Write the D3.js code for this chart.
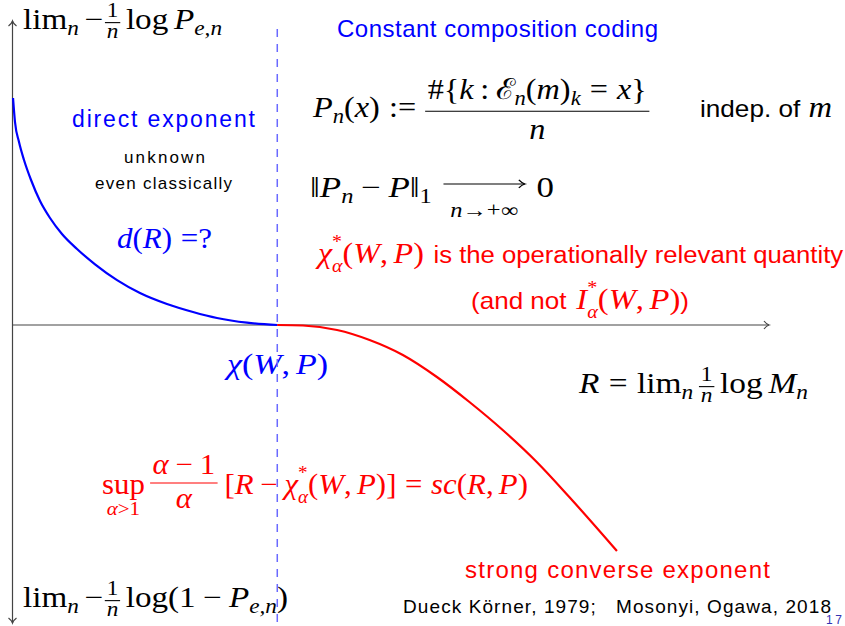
<!DOCTYPE html>
<html>
<head>
<meta charset="utf-8">
<script src="https://cdn.jsdelivr.net/npm/d3@7"></script>
<style>
  html, body { margin: 0; padding: 0; background: #fff; }
  svg { display: block; }
</style>
</head>
<body>
<svg id="chart" width="845" height="626"></svg>
<script>
// Rate axis (horizontal) and exponent axis (vertical), abstract units
const rateDomain = [0, 10];
const exponentDomain = [-5.96, 6.08];
const chiRate = 3.5; // position of χ(W,P) on the rate axis

// Direct exponent d(R) for rates below χ(W,P)
const directRate = [0.007, 0.033, 0.086, 0.152, 0.245, 0.364, 0.496, 0.654, 0.853, 1.091, 1.382, 1.685, 2.042, 2.386, 2.703, 3.1, 3.5];
const directExp  = [4.54, 4.06, 3.66, 3.30, 2.90, 2.48, 2.14, 1.82, 1.52, 1.214, 0.898, 0.64, 0.42, 0.26, 0.14, 0.046, 0];

// Strong converse exponent, drawn downward for rates above χ(W,P)
const converseRate = [3.5, 3.84, 4.29, 4.72, 5.16, 5.61, 6.04, 6.48, 6.93, 7.36, 7.99];
const converseExp  = [0, -0.01, -0.10, -0.30, -0.60, -1.04, -1.54, -2.10, -2.74, -3.44, -4.52];

const SERIF = "'Liberation Serif', 'Times New Roman', serif";
const SANS = "'Liberation Sans', Arial, sans-serif";
const BLUE = "#0000ff", RED = "#ff0000", DASH = "#6a6aff", AXIS = "#444";

const svg = d3.select("#chart");
const x = d3.scaleLinear().domain(rateDomain).range([12.5, 769]);
const y = d3.scaleLinear().domain(exponentDomain).range([623, 21]);

// LaTeX-style arrow tip pointing right at (tx, ty)
function arrowTip(tx, ty) {
  return `M${tx - 5},${ty - 4} C${tx - 3},${ty - 1.4} ${tx - 1},${ty - 0.3} ${tx},${ty}` +
         ` C${tx - 1},${ty + 0.3} ${tx - 3},${ty + 1.4} ${tx - 5},${ty + 4}`;
}

// ---- axes ----
const axes = svg.append("g").attr("stroke", AXIS).attr("fill", "none").attr("stroke-width", 1.2);
axes.append("line").attr("x1", x(rateDomain[0])).attr("x2", x(rateDomain[1]))
  .attr("y1", y(0)).attr("y2", y(0));
axes.append("path").attr("d", arrowTip(x(rateDomain[1]), y(0)));
axes.append("line").attr("x1", x(0)).attr("x2", x(0))
  .attr("y1", y(exponentDomain[0])).attr("y2", y(exponentDomain[1]));
axes.append("path").attr("d", arrowTip(0, 0))
  .attr("transform", `translate(${x(0)},${y(exponentDomain[1])}) rotate(-90)`);
axes.append("path").attr("d", arrowTip(0, 0))
  .attr("transform", `translate(${x(0)},${y(exponentDomain[0])}) rotate(90)`);

// ---- curves ----
const line = d3.line().x(d => x(d[0])).y(d => y(d[1])).curve(d3.curveMonotoneX);
svg.append("path").datum(d3.zip(directRate, directExp))
  .attr("d", line).attr("fill", "none").attr("stroke", BLUE).attr("stroke-width", 2.2);
svg.append("path").datum(d3.zip(converseRate, converseExp))
  .attr("d", line).attr("fill", "none").attr("stroke", RED).attr("stroke-width", 2.2);

// ---- small math typesetter ----
function typeset(spec) {
  const S = spec.size, col = spec.color || "#000";
  const inner = svg.append("g").append("g").attr("fill", col);

  function seq(c, parts, x0, base, k) {
    let cx = x0;
    parts.forEach(p => { cx += put(c, p, cx, base, k); });
    return cx - x0;
  }
  function put(c, p, cx, base, k) {
    if (p.sp !== undefined) return p.sp * S * k;
    if (p.frac) {
      const kk = k * (p.k || 1);
      const ng = c.append("g"), dg = c.append("g");
      const wn = seq(ng, p.frac, 0, base + p.num * S, kk);
      const wd = seq(dg, p.den, 0, base + p.dn * S, kk);
      const pad = 0.08 * S * kk;
      const W = Math.max(wn, wd) + 2 * pad;
      ng.attr("transform", `translate(${cx + (W - wn) / 2},0)`);
      dg.attr("transform", `translate(${cx + (W - wd) / 2},0)`);
      c.append("line").attr("x1", cx).attr("x2", cx + W)
        .attr("y1", base + p.bar * S).attr("y2", base + p.bar * S)
        .attr("stroke", col).attr("stroke-width", 1.1);
      return W + 0.05 * S;
    }
    if (p.stack) {
      const ws = p.stack.map(ps => seq(c, ps, cx, base, k));
      return Math.max(...ws);
    }
    if (p.under) {
      const mg = c.append("g"), lg = c.append("g");
      const wm = seq(mg, p.under, 0, base, k);
      const wl = seq(lg, p.label, 0, base + p.ld * S * k, k * p.lk);
      const W = Math.max(wm, wl);
      mg.attr("transform", `translate(${cx + (W - wm) / 2},0)`);
      lg.attr("transform", `translate(${cx + (W - wl) / 2},0)`);
      return W;
    }
    if (p.arrow) {
      const lg = c.append("g");
      const wl = seq(lg, p.arrow, 0, base + p.ld * S, k * p.lk);
      const W = Math.max(wl + 0.3 * S, p.w * S);
      lg.attr("transform", `translate(${cx + (W - wl) / 2},0)`);
      const ay = base + p.ay * S;
      c.append("line").attr("x1", cx + 1).attr("x2", cx + W - 1)
        .attr("y1", ay).attr("y2", ay).attr("stroke", col).attr("stroke-width", 1.1);
      c.append("path").attr("d", arrowTip(cx + W - 1, ay))
        .attr("fill", "none").attr("stroke", col).attr("stroke-width", 1.1);
      return W;
    }
    const t = c.append("text")
      .attr("x", cx).attr("y", base + (p.d || 0) * S * k)
      .attr("font-size", S * k * (p.k || 1))
      .attr("font-family", p.f === "s" ? SANS : SERIF)
      .attr("font-style", p.f === "i" ? "italic" : "normal")
      .text(p.t);
    return t.node().getComputedTextLength();
  }

  const natural = seq(inner, spec.parts, 0, spec.y, 1);
  const s = spec.width ? spec.width / natural : 1;
  inner.attr("transform", `translate(${spec.x},0) scale(${s},1)`);
}

const R = t => ({ t, f: "r" });
const I = t => ({ t, f: "i" });
const T = (t, k) => ({ t, f: "s", k: k || 0.8 });
const sub = (t, f) => ({ t, f: f || "i", k: 0.7, d: 0.22 });
const sp = v => ({ sp: v });
const starAlpha = { stack: [[{ t: "*", f: "r", k: 0.62, d: -0.5 }], [{ t: "α", f: "i", k: 0.62, d: 0.3 }]] };
const oneOverN = { frac: [R("1")], den: [I("n")], k: 0.7, num: -0.42, dn: 0.3, bar: -0.22 };
const WP = [R("("), I("W"), R(","), sp(0.17), I("P"), R(")")];

// ---- sans labels ----
function label(str, lx, ly, w, size, color) {
  svg.append("text").attr("x", lx).attr("y", ly)
    .attr("font-family", SANS).attr("font-size", size).attr("fill", color)
    .attr("textLength", w).attr("lengthAdjust", "spacing")
    .text(str);
}

label("Constant composition coding", 337, 37, 321, 24, BLUE);
label("direct exponent", 72, 127, 183, 23, BLUE);
label("unknown", 124, 163, 81, 17, "#000");
label("even classically", 95, 189, 137, 17, "#000");
label("strong converse exponent", 465, 578, 305, 24, RED);
label("Dueck Körner, 1979;\u00a0\u00a0\u00a0Mosonyi, Ogawa, 2018", 403, 613, 428, 19, "#000");
label("17", 826, 624, 16, 12, "#3333b3");

// ---- formulas ----
const M = 29;
typeset({ x: 23, y: 29, width: 199, size: M, parts: [
  R("lim"), sub("n"), sp(0.17), R("−"), sp(0.05), oneOverN, sp(0.12), R("log"), sp(0.17), I("P"), sub("e,n")
]});
typeset({ x: 23, y: 607, width: 265, size: M, parts: [
  R("lim"), sub("n"), sp(0.17), R("−"), sp(0.05), oneOverN, sp(0.12), R("log(1"), sp(0.22), R("−"), sp(0.22),
  I("P"), sub("e,n"), R(")")
]});
typeset({ x: 313, y: 117, width: 338, size: M, parts: [
  I("P"), sub("n"), R("("), I("x"), R(")"), sp(0.28), R(":="), sp(0.28),
  { frac: [R("#{"), I("k"), sp(0.2), R(":"), sp(0.2), R("ℰ"), sub("n"), R("("), I("m"), R(")"), sub("k"),
           sp(0.28), R("="), sp(0.28), I("x"), R("}")],
    den: [I("n")], num: -0.62, dn: 0.76, bar: -0.2 }
]});
typeset({ x: 700, y: 117, width: 132, size: M, parts: [T("indep. of"), sp(0.25), I("m")] });
typeset({ x: 310, y: 197, width: 244, size: M, parts: [
  R("‖"), I("P"), sub("n"), sp(0.22), R("−"), sp(0.22), I("P"), R("‖"), sub("1", "r"), sp(0.3),
  { arrow: [I("n"), R("→"), R("+∞")], w: 2.4, ay: -0.45, ld: 0.7, lk: 0.7 }, sp(0.3), R("0")
]});
typeset({ x: 117, y: 248, width: 95, size: M, color: BLUE, parts: [
  I("d"), R("("), I("R"), R(")"), sp(0.28), R("=?")
]});
typeset({ x: 318, y: 263, width: 525, size: M, color: RED, parts: [
  I("χ"), starAlpha, ...WP, sp(0.3), T("is the operationally relevant quantity")
]});
typeset({ x: 471, y: 309, width: 218, size: M, color: RED, parts: [
  T("(and not"), sp(0.3), I("I"), starAlpha, ...WP, T(")")
]});
typeset({ x: 227, y: 374, width: 101, size: M, color: BLUE, parts: [I("χ"), ...WP] });
typeset({ x: 579, y: 393, width: 229, size: M, parts: [
  I("R"), sp(0.28), R("="), sp(0.28), R("lim"), sub("n"), sp(0.17), oneOverN, sp(0.12), R("log"), sp(0.17),
  I("M"), sub("n")
]});
typeset({ x: 102, y: 494, width: 426, size: M, color: RED, parts: [
  { under: [R("sup")], label: [I("α"), R(">"), R("1")], ld: 0.73, lk: 0.68 }, sp(0.17),
  { frac: [I("α"), sp(0.22), R("−"), sp(0.22), R("1")], den: [I("α")], num: -0.69, dn: 0.48, bar: -0.38 },
  sp(0.17), R("["), I("R"), sp(0.22), R("−"), sp(0.22), I("χ"), starAlpha, ...WP, R("]"),
  sp(0.28), R("="), sp(0.28), I("sc"), R("("), I("R"), R(","), sp(0.17), I("P"), R(")")
]});

// ---- dashed marker at χ(W,P) ----
svg.append("line")
  .attr("x1", x(chiRate)).attr("x2", x(chiRate))
  .attr("y1", y(exponentDomain[1]) + 8).attr("y2", 626)
  .attr("stroke", DASH).attr("stroke-width", 1.5).attr("stroke-dasharray", "8,7");
</script>
</body>
</html>
